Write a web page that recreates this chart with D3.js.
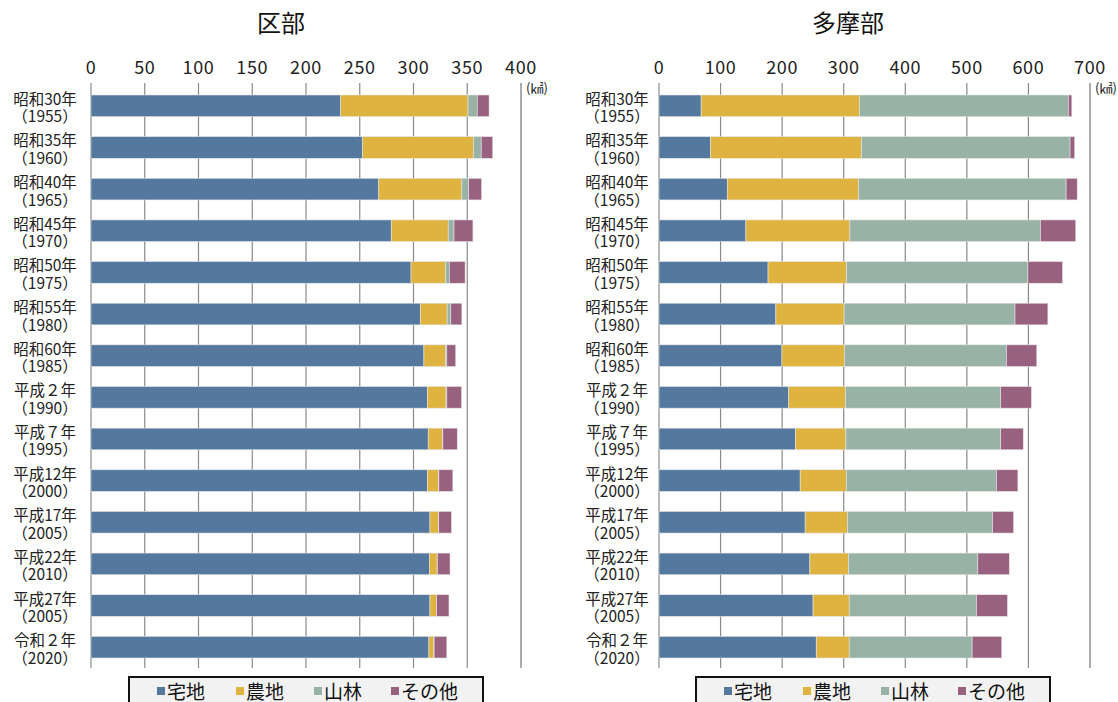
<!DOCTYPE html>
<html><head><meta charset="utf-8">
<script src="https://cdn.jsdelivr.net/npm/d3@7"></script>
<style>
html,body{margin:0;padding:0;background:#fff;}
text{font-family:"Noto Sans CJK JP","Noto Sans",sans-serif;}
</style></head>
<body>
<svg id="c" width="1118" height="702"></svg>
<script>
const eras = ["昭和30年","昭和35年","昭和40年","昭和45年","昭和50年","昭和55年","昭和60年","平成２年","平成７年","平成12年","平成17年","平成22年","平成27年","令和２年"];
const years = ["1955","1960","1965","1970","1975","1980","1985","1990","1995","2000","2005","2010","2005","2020"];
const seriesNames = ["宅地","農地","山林","その他"];
const colors = ["#55799e","#dfb33f","#98b3a6","#98617f"];

// 区部 (km²)
const kuTakuchi = [232.3,252.7,267.7,279.3,297.7,306.3,309.7,313.0,313.7,313.0,315.3,314.7,315.3,314.3];
const kuNouchi  = [118.4,103.0,77.3,53.0,32.0,25.0,20.0,17.3,13.3,10.3,8.0,7.3,6.0,4.7];
const kuSanrin  = [8.6,7.3,6.3,5.4,3.6,3.4,1.3,0.7,0.3,0.3,0.2,0.2,0.2,0.2];
const kuSonota  = [11.0,10.7,12.0,17.6,14.7,10.3,8.3,13.7,13.4,13.0,11.8,11.8,11.5,11.8];
const kuTicks = [0,50,100,150,200,250,300,350,400];

// 多摩部 (km²)
const taTakuchi = [68.5,83.6,110.9,141.1,177.1,189.8,199.7,210.7,221.8,229.3,237.4,245.0,250.2,255.4];
const taNouchi  = [257.2,245.6,213.1,168.9,127.7,110.9,101.6,92.3,81.8,74.9,68.6,62.7,58.7,53.5];
const taSanrin  = [339.0,338.4,337.2,309.4,294.3,277.5,263.0,252.0,251.4,243.8,235.7,210.1,206.6,199.7];
const taSonota  = [5.8,7.6,18.0,57.5,56.3,53.4,49.3,49.9,36.6,34.9,34.2,51.1,50.5,48.1];
const taTicks = [0,100,200,300,400,500,600,700];

const svg = d3.select("#c");

function drawChart(o){
  const g = svg.append("g");
  const rows = eras.map((e,i)=>({key:i, era:e, year:years[i],
    v:[o.series[0][i],o.series[1][i],o.series[2][i],o.series[3][i]]}));
  const x = d3.scaleLinear().domain([0,o.max]).range([o.x0,o.x1]);
  const y = d3.scaleBand().domain(rows.map(r=>r.key)).range([85,668]).paddingInner(0.48).paddingOuter(0.24);

  // title
  g.append("text").attr("x",o.titleX).attr("y",32).attr("text-anchor","middle")
    .attr("font-size",24).attr("fill","#111").text(o.title);

  // gridlines
  g.selectAll("line.grid").data(o.ticks).join("line")
    .attr("x1",d=>x(d)).attr("x2",d=>x(d)).attr("y1",83).attr("y2",668)
    .attr("stroke",(d,i)=>i===o.ticks.length-1?"#ababab":"#8a8a8a")
    .attr("stroke-width",(d,i)=>i===o.ticks.length-1?2:1.2);

  // tick labels
  g.selectAll("text.tick").data(o.ticks).join("text")
    .attr("x",d=>x(d)).attr("y",74).attr("text-anchor","middle")
    .attr("font-size",18).attr("letter-spacing",0.6).attr("fill","#222").text(d=>d);

  // unit
  g.append("text").attr("x",x(o.max)+5).attr("y",93).attr("font-size",13)
    .attr("fill","#222").text("(㎢)");

  // stacked bars
  const stack = d3.stack().keys([0,1,2,3]).value((d,k)=>d.v[k]);
  const layers = stack(rows);
  g.selectAll("g.layer").data(layers).join("g")
    .attr("fill",(d,i)=>colors[i])
    .selectAll("rect").data(d=>d).join("rect")
    .attr("x",d=>x(d[0])).attr("width",d=>Math.max(0,x(d[1])-x(d[0])))
    .attr("y",d=>y(d.data.key)).attr("height",y.bandwidth())
    .attr("stroke","#e4e4e4").attr("stroke-width",0.6);

  // category labels (two lines in one text)
  const lab = g.selectAll("text.lab").data(rows).join("text")
    .attr("text-anchor","middle").attr("font-size",15.5).attr("fill","#222")
    .attr("transform",d=>`translate(${o.labelX},${y(d.key)+y.bandwidth()/2})`);
  lab.append("tspan").attr("x",0).attr("y",-1).text(d=>d.era);
  lab.append("tspan").attr("x",0).attr("y",16.5).text(d=>"（"+d.year+"）");

  // legend
  const lg = g.append("g").attr("transform",`translate(${o.legX},677)`);
  lg.append("rect").attr("x",0).attr("y",0).attr("width",354).attr("height",40)
    .attr("fill","#f2f2f2").attr("stroke","#111").attr("stroke-width",2);
  const offs = [28,107,185,262];
  seriesNames.forEach((n,i)=>{
    lg.append("rect").attr("x",offs[i]).attr("y",10).attr("width",8).attr("height",8).attr("fill",colors[i]);
    lg.append("text").attr("x",offs[i]+10).attr("y",22).attr("font-size",19).attr("fill","#111").text(n);
  });
}

drawChart({title:"区部", titleX:281, x0:91, x1:521, max:400, ticks:kuTicks, labelX:45, legX:129,
  series:[kuTakuchi,kuNouchi,kuSanrin,kuSonota]});
drawChart({title:"多摩部", titleX:848, x0:659, x1:1090, max:700, ticks:taTicks, labelX:617, legX:696,
  series:[taTakuchi,taNouchi,taSanrin,taSonota]});
</script>
</body></html>
